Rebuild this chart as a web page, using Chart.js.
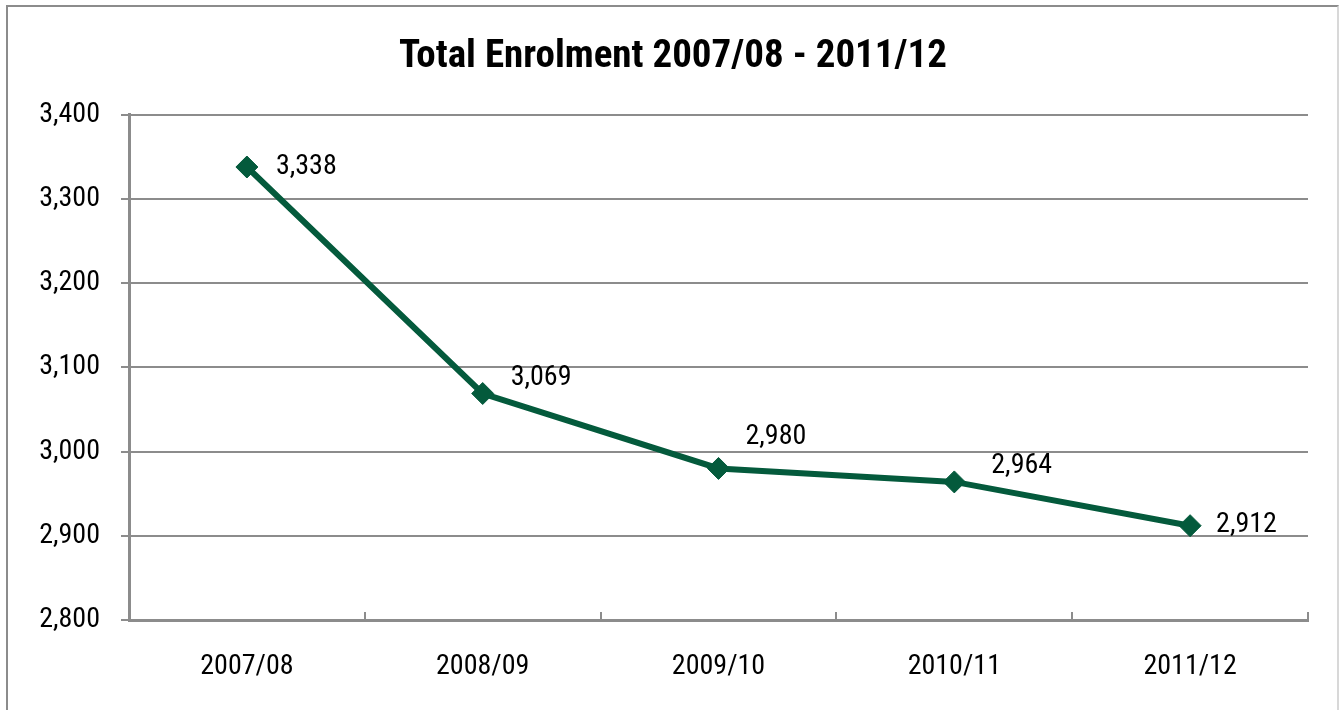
<!DOCTYPE html>
<html>
<head>
<meta charset="utf-8">
<script src="https://cdn.jsdelivr.net/npm/chart.js@4/dist/chart.umd.min.js"></script>
<style>
  html, body { margin: 0; padding: 0; background: #fff; }
  #wrap { position: relative; width: 1341px; height: 710px; overflow: hidden; }
  #frame { position: absolute; left: 6px; top: 5px; width: 1333px; height: 720px; border: 2px solid #8c8c8c; border-right-color: #d8d8d8; box-sizing: border-box; }
  canvas { position: absolute; left: 0; top: 0; }
</style>
</head>
<body>
<div id="wrap">
  <div id="frame"></div>
  <canvas id="enrolChart" width="1341" height="710"></canvas>
</div>
<script>
// data
const years = ['2007/08', '2008/09', '2009/10', '2010/11', '2011/12'];
const enrolment = [3338, 3069, 2980, 2964, 2912];
const yTicks = [2800, 2900, 3000, 3100, 3200, 3300, 3400];

const FONT = "'Roboto Condensed', 'Open Sans', sans-serif";
const GREEN = '#045a3c';
const GREY = '#8c8c8c';

// label nudges (dx, dy) like the hand-placed labels in the original
const labelNudge = [[29, 0], [28, -16], [27, -31], [37, -16], [26, -1]];

const fmt = v => Number(v).toLocaleString('en-US');

// value labels next to each point
const valueLabels = {
  id: 'valueLabels',
  afterDatasetsDraw(c) {
    const ctx = c.ctx;
    const meta = c.getDatasetMeta(0);
    ctx.save();
    ctx.font = '28px ' + FONT;
    ctx.fillStyle = '#000';
    ctx.textAlign = 'left';
    ctx.textBaseline = 'middle';
    meta.data.forEach((pt, i) => {
      const n = labelNudge[i] || [28, 0];
      ctx.fillText(fmt(enrolment[i]), pt.x + n[0], pt.y + n[1]);
    });
    ctx.restore();
  }
};

// short tick marks between categories, pointing up into the plot
const innerTicks = {
  id: 'innerTicks',
  afterDraw(c) {
    const ctx = c.ctx;
    const x = c.scales.x;
    const bottom = c.chartArea.bottom;
    const half = (x.getPixelForValue(1) - x.getPixelForValue(0)) / 2;
    ctx.save();
    ctx.strokeStyle = GREY;
    ctx.lineWidth = 2;
    for (let i = 0; i <= years.length; i++) {
      const px = Math.round(x.getPixelForValue(i) - half);
      ctx.beginPath();
      ctx.moveTo(px, bottom);
      ctx.lineTo(px, bottom - 8);
      ctx.stroke();
    }
    ctx.restore();
  }
};

const ctx = document.getElementById('enrolChart').getContext('2d');
const chart = new Chart(ctx, {
  type: 'line',
  data: {
    labels: years,
    datasets: [{
      label: 'Total Enrolment',
      data: enrolment,
      borderColor: GREEN,
      backgroundColor: GREEN,
      borderWidth: 6,
      pointStyle: 'rectRot',
      pointRadius: 11,
      pointHoverRadius: 11,
      pointBackgroundColor: GREEN,
      pointBorderColor: GREEN,
      pointBorderWidth: 1,
      tension: 0
    }]
  },
  options: {
    responsive: false,
    animation: false,
    devicePixelRatio: 1,
    layout: { padding: { left: 5, right: 0, top: 0, bottom: 0 } },
    plugins: {
      legend: { display: false },
      tooltip: { enabled: false },
      title: {
        display: true,
        text: 'Total Enrolment 2007/08 - 2011/12',
        color: '#000',
        font: { family: FONT, size: 39, weight: 'bold' },
        padding: { top: 34, bottom: 34 }
      }
    },
    scales: {
      x: {
        offset: true,
        grid: { display: true, drawOnChartArea: false, drawTicks: false },
        border: { display: true, color: GREY, width: 3 },
        ticks: { color: '#000', font: { family: FONT, size: 28 }, padding: 30, maxRotation: 0 },
        afterFit: s => { s.height = 90; }
      },
      y: {
        min: yTicks[0],
        max: yTicks[yTicks.length - 1],
        afterBuildTicks: s => { s.ticks = yTicks.map(v => ({ value: v })); },
        grid: { color: GREY, lineWidth: 2, drawTicks: true, tickLength: 8, tickColor: GREY, tickWidth: 2 },
        border: { display: true, color: GREY, width: 3 },
        ticks: { color: '#000', font: { family: FONT, size: 28 }, padding: 21, callback: v => fmt(v) },
        afterFit: s => { s.width = 124; }
      },
      // empty right-hand gutter so the plot stops short of the frame
      gutter: {
        type: 'linear',
        position: 'right',
        grid: { display: false },
        border: { display: false },
        ticks: { display: false },
        afterFit: s => { s.width = 33; }
      }
    }
  },
  plugins: [valueLabels, innerTicks]
});
</script>
</body>
</html>
